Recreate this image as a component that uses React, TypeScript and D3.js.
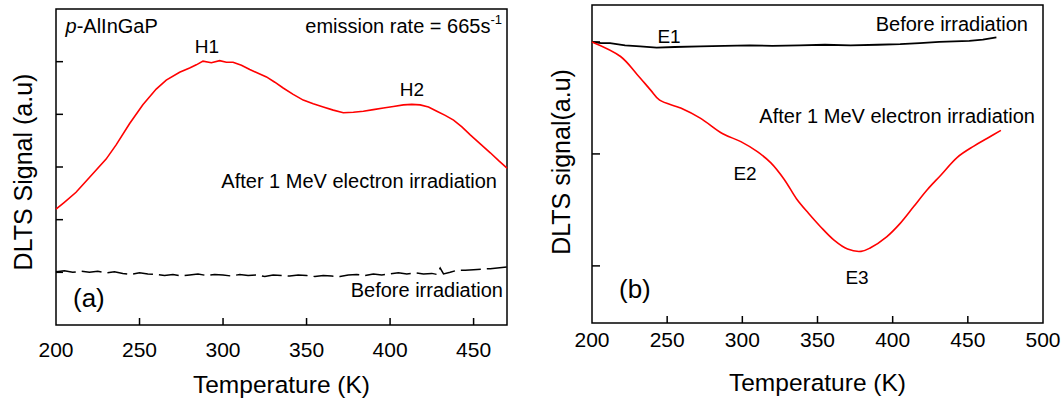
import React from "react";
import * as d3 from "d3";

// ---------- Data: panel (a) p-AlInGaP ----------
const aAfterTemp = [200, 205, 212, 220, 230, 236, 244, 252, 260, 266, 274, 280, 284, 288, 293, 298, 302, 306, 311, 316, 321, 326, 331, 336, 342, 348, 354, 360, 366, 372, 378, 384, 390, 396, 402, 408, 413, 418, 423, 428, 433, 438, 443, 448, 454, 460, 465, 470];
const aAfterSignal = [2.20, 2.33, 2.52, 2.80, 3.15, 3.42, 3.82, 4.18, 4.48, 4.65, 4.80, 4.88, 4.94, 5.01, 4.98, 5.02, 4.99, 4.99, 4.93, 4.85, 4.78, 4.71, 4.61, 4.50, 4.38, 4.27, 4.20, 4.14, 4.08, 4.03, 4.04, 4.06, 4.09, 4.12, 4.15, 4.18, 4.19, 4.18, 4.14, 4.06, 3.98, 3.89, 3.76, 3.61, 3.44, 3.27, 3.12, 2.98];
const aBeforeTemp = [200, 205, 210, 215, 220, 225, 230, 235, 240, 245, 250, 255, 260, 265, 270, 275, 280, 285, 290, 295, 300, 305, 310, 315, 320, 325, 330, 335, 340, 345, 350, 355, 360, 365, 370, 375, 380, 385, 390, 395, 400, 405, 410, 415, 420, 425, 428, 430, 432, 436, 440, 445, 450, 460, 470];
const aBeforeSignal = [1.01, 1.03, 1.00, 1.02, 1.00, 1.02, 0.99, 1.01, 0.98, 0.96, 0.99, 0.97, 0.96, 0.94, 0.96, 0.93, 0.95, 0.97, 0.94, 0.96, 0.95, 0.93, 0.96, 0.94, 0.95, 0.92, 0.95, 0.94, 0.93, 0.95, 0.94, 0.92, 0.94, 0.93, 0.92, 0.95, 0.96, 0.94, 0.97, 0.95, 0.97, 0.99, 0.97, 0.99, 0.97, 0.98, 0.96, 1.08, 0.97, 1.00, 1.04, 1.04, 1.05, 1.07, 1.10];
const aXTicks = [200, 250, 300, 350, 400, 450];
const aYTicks = [1, 2, 3, 4, 5];

// ---------- Data: panel (b) ----------
const bBeforeTemp = [200, 206, 212, 222, 232, 243, 255, 272, 288, 305, 320, 338, 355, 372, 390, 405, 418, 431, 441, 451, 460, 469];
const bBeforeSignal = [2.00, 1.99, 1.99, 1.97, 1.96, 1.95, 1.955, 1.96, 1.965, 1.97, 1.965, 1.97, 1.975, 1.97, 1.975, 1.98, 1.99, 2.00, 2.005, 2.01, 2.02, 2.04];
const bAfterTemp = [200, 219, 230, 239, 245, 259, 272, 287, 299, 310, 319, 328, 336, 344, 352, 361, 370, 379, 385, 396, 405, 414, 423, 432, 443, 454, 463, 472];
const bAfterSignal = [2.00, 1.87, 1.71, 1.57, 1.48, 1.41, 1.32, 1.18, 1.11, 1.02, 0.92, 0.77, 0.60, 0.47, 0.35, 0.23, 0.15, 0.13, 0.16, 0.26, 0.38, 0.53, 0.68, 0.81, 0.97, 1.07, 1.14, 1.21];
const bXTicks = [200, 250, 300, 350, 400, 450, 500];
const bYTicks = [0, 1, 2];

const FONT = "'Liberation Sans', Arial, Helvetica, sans-serif";

export default function App() {
  // Panel (a) scales
  const ax = d3.scaleLinear().domain([200, 470]).range([56, 507]);
  const ay = d3.scaleLinear().domain([0, 6]).range([325, 9]);
  // Panel (b) scales
  const bx = d3.scaleLinear().domain([200, 500]).range([592, 1043]);
  const by = d3.scaleLinear().domain([-0.51, 2.33]).range([323, 5]);

  const lineA = d3.line<number>().x((_, i) => ax(aAfterTemp[i])).y((d) => ay(d));
  const lineA0 = d3.line<number>().x((_, i) => ax(aBeforeTemp[i])).y((d) => ay(d));
  const lineB0 = d3.line<number>().x((_, i) => bx(bBeforeTemp[i])).y((d) => by(d));
  const lineB = d3
    .line<number>()
    .x((_, i) => bx(bAfterTemp[i]))
    .y((d) => by(d))
    .curve(d3.curveCatmullRom);

  const [ax0, ax1] = ax.range();
  const [ay0, ay1] = ay.range();
  const [bx0, bx1] = bx.range();
  const [by0, by1] = by.range();

  return (
    <svg
      width={1064}
      height={402}
      style={{ position: "absolute", left: 0, top: 0, background: "#fff" }}
      fontFamily={FONT}
    >
      <rect x={0} y={0} width={1064} height={402} fill="#fff" />

      {/* ---------------- Panel (a) ---------------- */}
      <g>
        <rect x={ax0} y={ay1} width={ax1 - ax0} height={ay0 - ay1} fill="none" stroke="#000" strokeWidth={1.5} />
        {aXTicks.filter((t) => t > 200).map((t) => (
          <line key={"axt" + t} x1={ax(t)} x2={ax(t)} y1={ay0} y2={ay0 - 7} stroke="#000" strokeWidth={1.5} />
        ))}
        {aYTicks.map((t) => (
          <line key={"ayt" + t} x1={ax0} x2={ax0 + 7} y1={ay(t)} y2={ay(t)} stroke="#000" strokeWidth={1.5} />
        ))}
        {aXTicks.map((t) => (
          <text key={"axl" + t} x={ax(t)} y={357} textAnchor="middle" fontSize={21} fill="#000">
            {t}
          </text>
        ))}
        <text x={(ax0 + ax1) / 2} y={393} textAnchor="middle" fontSize={24.5} fill="#000">
          Temperature (K)
        </text>
        <text transform={`translate(32, ${172}) rotate(-90)`} textAnchor="middle" fontSize={25} fill="#000">
          DLTS Signal (a.u)
        </text>

        <path d={lineA0(aBeforeSignal) || ""} fill="none" stroke="#000" strokeWidth={1.5} strokeDasharray="20 6" />
        <path d={lineA(aAfterSignal) || ""} fill="none" stroke="#ff0000" strokeWidth={1.6} />

        <text x={65.5} y={33} fontSize={20} fill="#000">
          <tspan fontStyle="italic">p</tspan>-AlInGaP
        </text>
        <text x={502} y={33} textAnchor="end" fontSize={20} fill="#000">
          emission rate = 665s<tspan fontSize={13} dy={-9}>-1</tspan>
        </text>
        <text x={207} y={53} textAnchor="middle" fontSize={19} fill="#000">H1</text>
        <text x={412} y={96} textAnchor="middle" fontSize={19} fill="#000">H2</text>
        <text x={497} y={188} textAnchor="end" fontSize={20} fill="#000">After 1 MeV electron irradiation</text>
        <text x={503} y={297} textAnchor="end" fontSize={20} fill="#000">Before irradiation</text>
        <text x={73} y={307} fontSize={26} fill="#000">(a)</text>
      </g>

      {/* ---------------- Panel (b) ---------------- */}
      <g>
        <rect x={bx0} y={by1} width={bx1 - bx0} height={by0 - by1} fill="none" stroke="#000" strokeWidth={1.5} />
        {bXTicks.filter((t) => t > 200 && t < 500).map((t) => (
          <line key={"bxt" + t} x1={bx(t)} x2={bx(t)} y1={by0} y2={by0 - 7} stroke="#000" strokeWidth={1.5} />
        ))}
        {bYTicks.map((t) => (
          <line key={"byt" + t} x1={bx0} x2={bx0 + 8} y1={by(t)} y2={by(t)} stroke="#000" strokeWidth={1.5} />
        ))}
        {bXTicks.map((t) => (
          <text key={"bxl" + t} x={bx(t)} y={347} textAnchor="middle" fontSize={21} fill="#000">
            {t}
          </text>
        ))}
        <text x={(bx0 + bx1) / 2} y={391} textAnchor="middle" fontSize={24.5} fill="#000">
          Temperature (K)
        </text>
        <text transform={`translate(570, ${162}) rotate(-90)`} textAnchor="middle" fontSize={25} fill="#000">
          DLTS signal(a.u)
        </text>

        <path d={lineB0(bBeforeSignal) || ""} fill="none" stroke="#000" strokeWidth={1.8} />
        <path d={lineB(bAfterSignal) || ""} fill="none" stroke="#ff0000" strokeWidth={1.6} />

        <text x={1028} y={30.5} textAnchor="end" fontSize={20} fill="#000">Before irradiation</text>
        <text x={669} y={43} textAnchor="middle" fontSize={19} fill="#000">E1</text>
        <text x={1035} y={123} textAnchor="end" fontSize={20} fill="#000">After 1 MeV electron irradiation</text>
        <text x={745} y={180} textAnchor="middle" fontSize={19} fill="#000">E2</text>
        <text x={857} y={284} textAnchor="middle" fontSize={19} fill="#000">E3</text>
        <text x={619} y={298} fontSize={26} fill="#000">(b)</text>
      </g>
    </svg>
  );
}
